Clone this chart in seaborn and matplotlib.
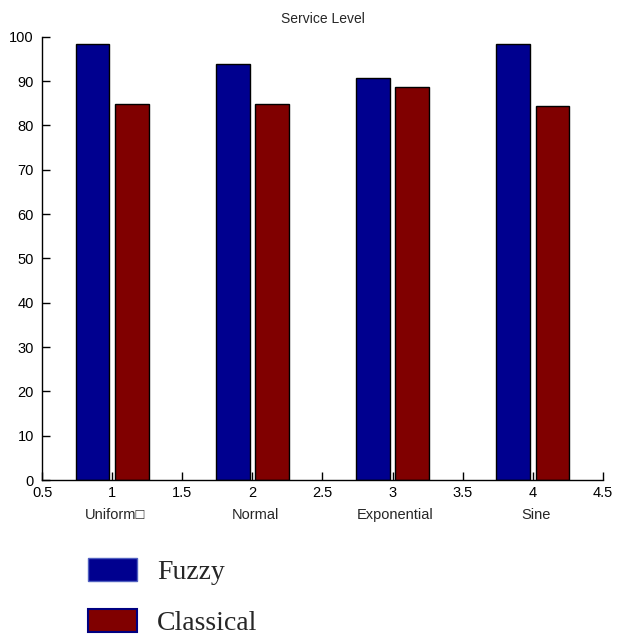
import matplotlib
matplotlib.use("Agg")
import matplotlib.pyplot as plt
import seaborn as sns
import pandas as pd
from matplotlib.patches import Patch

categories = ["Uniform\u25a1", "Normal", "Exponential", "Sine"]
positions = [1, 2, 3, 4]
fuzzy = [98.3, 93.9, 90.7, 98.3]
classical = [84.8, 84.8, 88.6, 84.4]
series = ["Fuzzy", "Classical"]
colors = {"Fuzzy": "#00008F", "Classical": "#800000"}
xticks = [0.5, 1, 1.5, 2, 2.5, 3, 3.5, 4, 4.5]
xticklabels = ["0.5", "1", "1.5", "2", "2.5", "3", "3.5", "4", "4.5"]
yticks = list(range(0, 101, 10))

df = pd.DataFrame({
    "pos": positions * 2,
    "value": fuzzy + classical,
    "series": ["Fuzzy"] * 4 + ["Classical"] * 4,
})

sns.set_style("white")
plt.rcParams["font.family"] = ["Liberation Sans", "DejaVu Sans"]

fig = plt.figure(figsize=(6.19, 6.35), dpi=100)
ax = fig.add_axes([0.068, 0.244, 0.906, 0.698])

sns.barplot(data=df, x="pos", y="value", hue="series", hue_order=series,
            palette=colors, native_scale=True, width=0.56, gap=0.14,
            saturation=1, edgecolor="black", linewidth=1.0, legend=False,
            ax=ax, errorbar=None)

ax.set_xlim(0.5, 4.5)
ax.set_ylim(0, 100)
ax.set_xticks(xticks)
ax.set_xticklabels(xticklabels)
ax.set_yticks(yticks)
ax.set_xlabel("")
ax.set_ylabel("")
for s in ["top", "right"]:
    ax.spines[s].set_visible(False)
for s in ["left", "bottom"]:
    ax.spines[s].set_color("black")
    ax.spines[s].set_linewidth(1.0)
ax.tick_params(axis="both", direction="in", length=6, width=1, colors="black",
               labelsize=10.5, bottom=True, left=True)
ax.tick_params(axis="y", pad=6)
ax.tick_params(axis="x", pad=4)
ax.set_title("Service Level", fontsize=10, pad=10)

for p, c in zip(positions, categories):
    ax.text(p + 0.02, -0.063, c, transform=ax.get_xaxis_transform(),
            ha="center", va="top", fontsize=10.5,
            family=["Liberation Sans", "DejaVu Sans"])

handles = [Patch(facecolor=colors["Fuzzy"], edgecolor="#5060C0", linewidth=1.0),
           Patch(facecolor=colors["Classical"], edgecolor="#000080", linewidth=1.5)]
fig.legend(handles, series, loc="upper left", bbox_to_anchor=(0.142, 0.122),
           frameon=False, prop={"family": "Liberation Serif", "size": 20},
           handlelength=1.76, handleheight=0.93, handletextpad=0.72,
           labelspacing=0.85, borderaxespad=0, borderpad=0)

fig.savefig("out.png", dpi=100)
